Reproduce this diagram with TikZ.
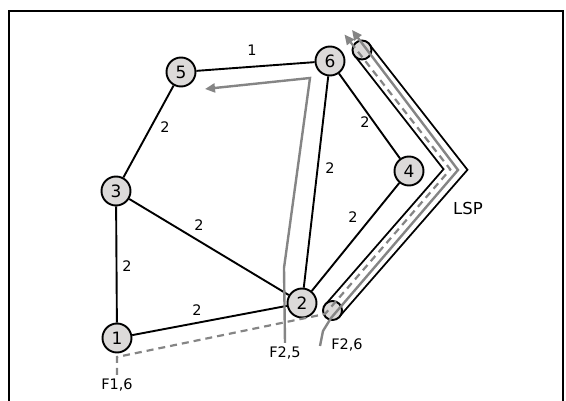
\documentclass[tikz,border=0pt]{standalone}
\usepackage{fontspec}
\setmainfont{DejaVu Sans}
\usetikzlibrary{arrows.meta}
\definecolor{nodegray}{HTML}{DCDAD9}
\definecolor{flowgray}{HTML}{858585}
\tikzset{
  router/.style={circle, draw, line width=1.9pt, fill=nodegray, minimum size=29pt, inner sep=0pt, font=\fontsize{17}{17}\selectfont},
  lspend/.style={circle, draw, line width=1.9pt, fill=nodegray, minimum size=19pt, inner sep=0pt},
  link/.style={line width=1.9pt},
  tube/.style={draw=black, line width=1.9pt, double=white, double distance=16.4pt},
  cost/.style={font=\fontsize{14.5}{14.5}\selectfont, inner sep=0pt},
  flowname/.style={font=\fontsize{14.5}{14.5}\selectfont, inner sep=1pt, outer sep=3pt},
  flowtip/.style={-{Triangle[length=10pt,width=9pt]}},
  flow/.style={draw=flowgray, line width=2.4pt, flowtip},
  dashflow/.style={draw=flowgray, line width=2.2pt, dash pattern=on 7pt off 5pt, flowtip},
}
\begin{document}
\begin{tikzpicture}[x=1pt, y=-1pt]
        \useasboundingbox (0,0) rectangle (566,401);
        \draw[line width=1.9pt] (9,401) -- (9,11) -- (563,11) -- (563,401);

        \coordinate (lsptop) at (362,50);
        \coordinate (lspbot) at (332.5,310.5);
        \coordinate (bend)   at (455.5,169.5);
        \draw[tube] (lsptop) -- (bend) -- (lspbot);
        \node (lspA) at (lsptop) [lspend] {};
        \node (lspB) at (lspbot) [lspend] {};

        \node (r1) at (117,338) [router] {1};
        \node (r2) at (302,303) [router] {2};
        \node (r3) at (116,191) [router] {3};
        \node (r4) at (409,171) [router] {4};
        \node (r5) at (181,72)  [router] {5};
        \node (r6) at (330,61)  [router] {6};

        \draw[link] (r1) -- (r2);
        \draw[link] (r1) -- (r3);
        \draw[link] (r3) -- (r2);
        \draw[link] (r3) -- (r5);
        \draw[link] (r5) -- (r6);
        \draw[link] (r6) -- (r2);
        \draw[link] (r6) -- (r4);
        \draw[link] (r4) -- (r2);

        \node (c12) at (197,310) [cost] {2};
        \node (c13) at (127,266) [cost] {2};
        \node (c32) at (199,225) [cost] {2};
        \node (c35) at (165,127) [cost] {2};
        \node (c56) at (252,50)  [cost] {1};
        \node (c62) at (330,168) [cost] {2};
        \node (c64) at (365,122) [cost] {2};
        \node (c42) at (353,217) [cost] {2};

        \node (lsp) at (468,208) [font=\fontsize{16.5}{16.5}\selectfont] {LSP};

        \node (f16) at (117,385) [flowname] {F1,6};
        \node (f25) at (285,353) [flowname] {F2,5};
        \node (f26) at (347,345) [flowname] {F2,6};
        \coordinate (f26in) at (320,346);

        \draw[dashflow] (f16.north) -- (117,357) -- (325,314) -- (450.3,169.4) -- (344.5,34.5);
        \draw[flow] (f25.north) -- (284,268) -- (310,78) -- (205,89);
        \draw[flow] (f26in) -- (323,331) -- (331,318) -- (458,170) -- (352,30);
\end{tikzpicture}
\end{document}
